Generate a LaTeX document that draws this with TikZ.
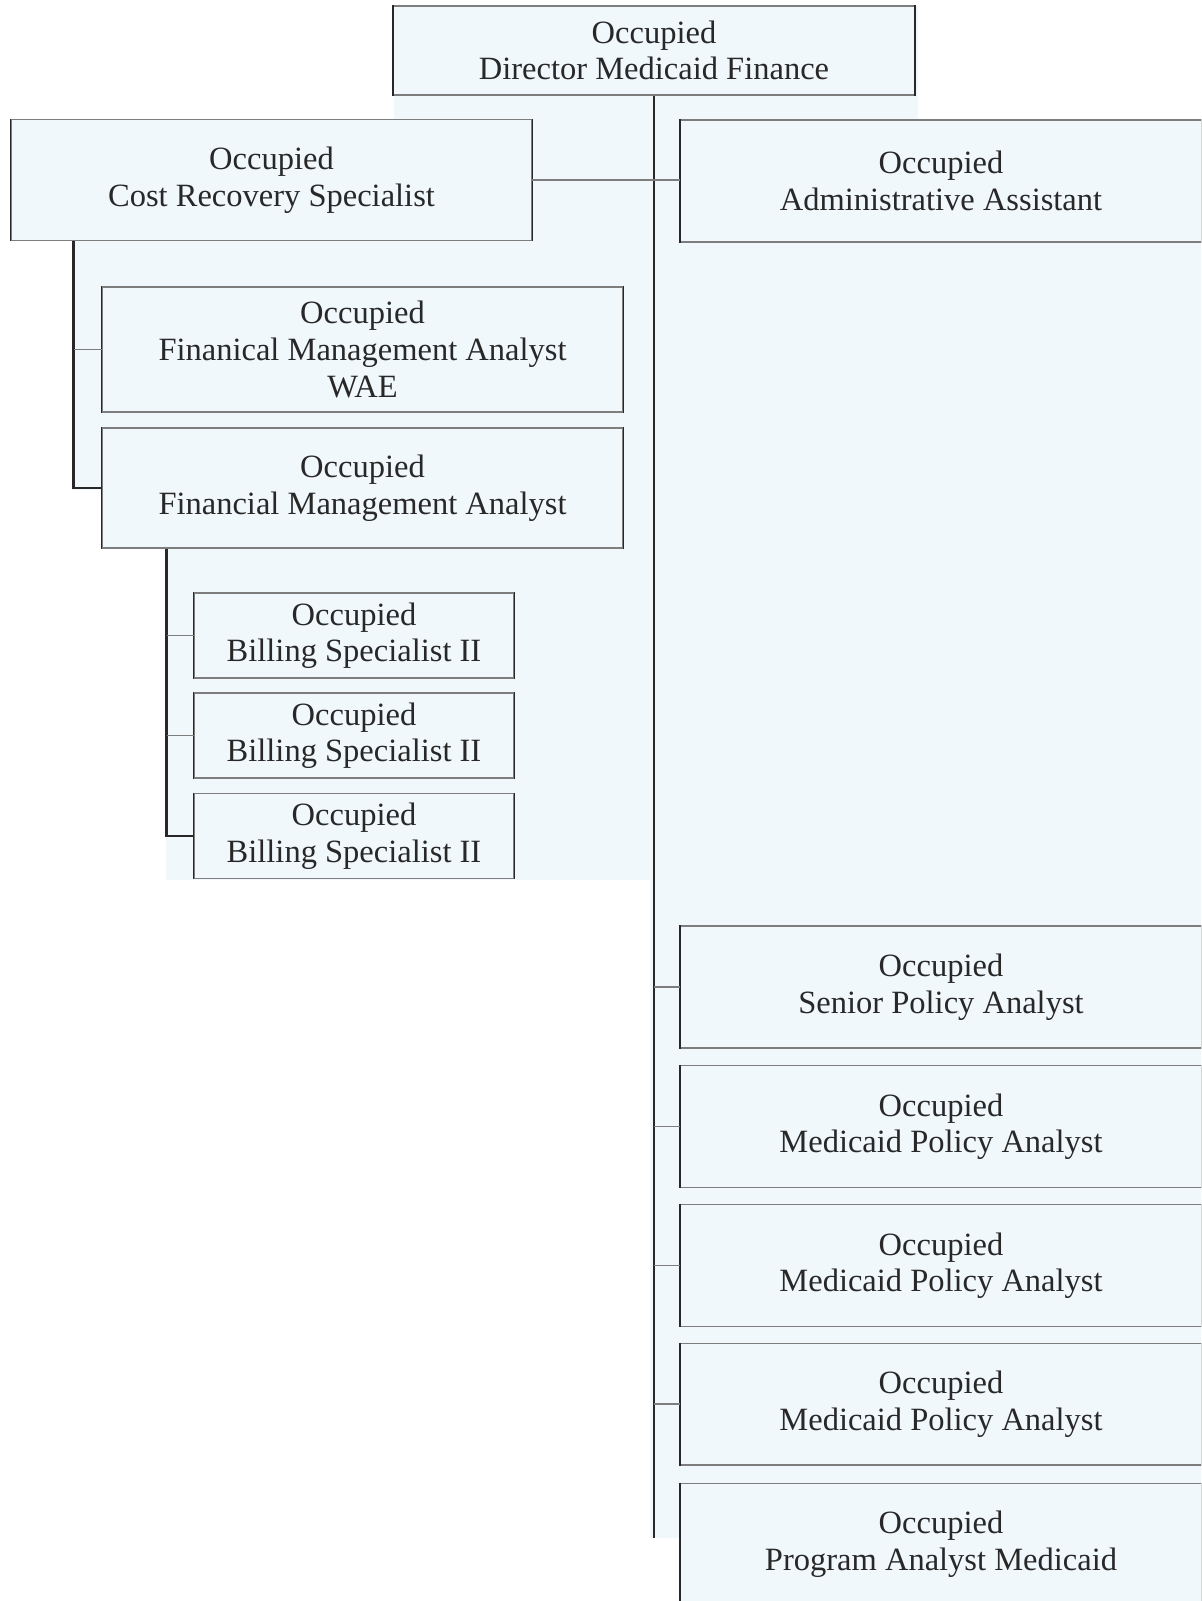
\documentclass[tikz,border=0pt]{standalone}
\usepackage{fontspec}
\setmainfont{Liberation Serif}
\usepackage{tikz}
\usetikzlibrary{positioning}
\definecolor{scanbg}{RGB}{240,248,252}
\definecolor{inkgrey}{RGB}{40,40,40}
\definecolor{edgegrey}{RGB}{125,125,125}
\tikzset{
  base/.style={font=\fontsize{18.5}{20.8}\selectfont, align=center, inner sep=0pt, text=inkgrey},
  side/.style={draw=inkgrey, line width=1.1pt},
  box/.style={base, rectangle, draw=edgegrey, fill=scanbg, line width=0.6pt,
    append after command={(\tikzlastnode.north west) edge[side] (\tikzlastnode.south west)
                          (\tikzlastnode.north east) edge[side] (\tikzlastnode.south east)}},
  wide/.style={box, minimum width=10.42cm, minimum height=2.44cm},
  narrow/.style={box, minimum width=6.4cm, minimum height=1.7cm},
  spine/.style={draw=inkgrey, line width=1.2pt},
  twig/.style={draw=edgegrey, line width=0.6pt},
}

\begin{document}
\begin{tikzpicture}[x=0.02cm, y=-0.02cm]
  \useasboundingbox (0,0) rectangle (1201,1601);
  \clip (0,0) rectangle (1201,1601);
  % scanned sheet
  \fill[scanbg] (394,6) -- (918,6) -- (918,119) -- (1201,119) -- (1201,1601) -- (681,1601) -- (681,1538)
    -- (650,1538) -- (650,880) -- (166,880) -- (166,549) -- (102,549) -- (102,490) -- (72,490)
    -- (72,232) -- (10,232) -- (10,119) -- (394,119) -- cycle;
  % top rows
  \node[box, minimum width=10.42cm, minimum height=1.78cm] (dir) at (654,50.5) {Occupied\\Director Medicaid Finance};
  \node[wide, minimum height=2.42cm] (cost) at (271.5,180) {Occupied\\Cost Recovery Specialist};
  \node[wide] (admin) at (941,181) {Occupied\\Administrative Assistant};
  % finance branch
  \node[wide, minimum height=2.5cm] (fmawae) at (362.5,349.5) {Occupied\\Finanical Management Analyst\\WAE};
  \node[wide, minimum height=2.4cm] (fma) at (362.5,488) {Occupied\\Financial Management Analyst};
  \foreach \n/\y in {bill1/635.5,bill2/735.5,bill3/836}{
    \node[narrow] (\n) at (354,\y) {Occupied\\Billing Specialist II};
  }
  % policy branch
  \foreach \n/\y/\t in {senior/987/{Senior Policy Analyst},mpa1/1126.5/{Medicaid Policy Analyst},
      mpa2/1265.5/{Medicaid Policy Analyst},mpa3/1404/{Medicaid Policy Analyst},prog/1544/{Program Analyst Medicaid}}{
    \node[wide] (\n) at (941,\y) {Occupied\\\t};
  }
  % lines
  \coordinate (trunk) at (654,1538);
  \coordinate (costbus) at (73.5,488);
  \coordinate (fmabus) at (166.5,836);
  \draw[spine] (dir.south) -- (trunk);
  \draw[twig] (cost.east) -- (cost.east -| admin.west);
  \draw[spine] (cost.south -| costbus) -- (costbus) -- (fma.west);
  \draw[twig] (fmawae.west -| costbus) -- (fmawae.west);
  \draw[spine] (fma.south -| fmabus) -- (fmabus) -- (bill3.west);
  \foreach \n in {bill1,bill2} \draw[twig] (\n.west -| fmabus) -- (\n.west);
  \foreach \n in {senior,mpa1,mpa2,mpa3} \draw[twig] (\n.west -| trunk) -- (\n.west);
\end{tikzpicture}
\end{document}
